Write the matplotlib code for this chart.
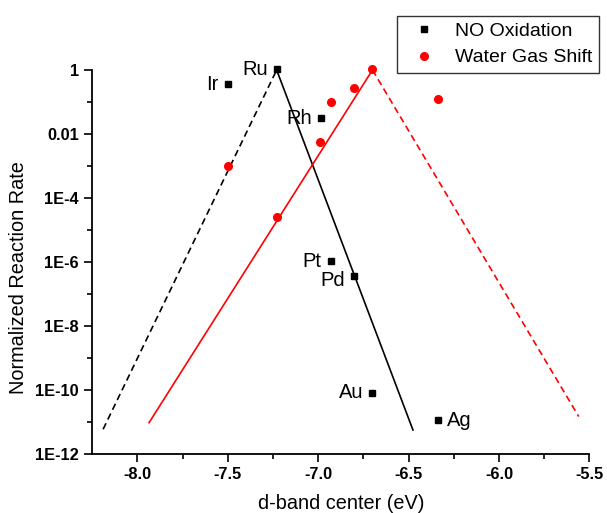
import numpy as np
import matplotlib
matplotlib.use("Agg")
import matplotlib.pyplot as plt
from matplotlib.ticker import FixedLocator, NullFormatter

plt.rcParams['font.family'] = ['Liberation Sans', 'DejaVu Sans']

# NO oxidation rates per metal (d-band center in eV, normalized rate)
metals = ['Ir', 'Ru', 'Rh', 'Pt', 'Pd', 'Au', 'Ag']
no_dband = [-7.50, -7.23, -6.985, -6.93, -6.80, -6.70, -6.34]
no_rate = [0.36, 1.05, 0.031, 1.05e-6, 3.5e-7, 8.0e-11, 1.1e-11]

# water gas shift rates
wgs_dband = [-7.50, -7.23, -6.99, -6.93, -6.80, -6.70, -6.34]
wgs_rate = [1.0e-3, 2.5e-5, 5.5e-3, 0.10, 0.27, 1.05, 0.12]

# volcano branches (end points)
no_left_x = [-8.19, -7.23]
no_left_y = [5.8e-12, 1.0]
no_right_x = [-7.23, -6.476]
no_right_y = [1.0, 5.5e-12]
wgs_left_x = [-7.936, -6.70]
wgs_left_y = [9.3e-12, 1.0]
wgs_right_x = [-6.70, -5.559]
wgs_right_y = [1.0, 1.45e-11]

ytick_vals = [1e-12, 1e-10, 1e-8, 1e-6, 1e-4, 1e-2, 1]
ytick_labels = ['1E-12', '1E-10', '1E-8', '1E-6', '1E-4', '0.01', '1']
xtick_vals = [-8.0, -7.5, -7.0, -6.5, -6.0, -5.5]

fig = plt.figure(figsize=(6.07, 5.13), dpi=100)
ax = fig.add_axes([0.152, 0.1156, 0.819, 0.748])
ax.set_yscale('log')

red = '#ff0000'
ax.plot(no_left_x, no_left_y, color='black', lw=1.2, dashes=(4, 2.5))
ax.plot(no_right_x, no_right_y, color='black', lw=1.2)
ax.plot(wgs_left_x, wgs_left_y, color=red, lw=1.2)
ax.plot(wgs_right_x, wgs_right_y, color=red, lw=1.2, dashes=(4, 2.5))

ax.plot(no_dband, no_rate, 's', color='black', ms=5, ls='none',
        label='NO Oxidation', clip_on=False, zorder=5)
ax.plot(wgs_dband, wgs_rate, 'o', color=red, ms=5.5, ls='none',
        label='Water Gas Shift', clip_on=False, zorder=5)

# metal names next to the NO oxidation points
for name, x, y in zip(metals, no_dband, no_rate):
    if name == 'Ag':
        ax.annotate(name, (x, y), xytext=(6.5, 0), textcoords='offset points',
                    ha='left', va='center', fontsize=14.5, annotation_clip=False)
    else:
        dy = -3 if name == 'Pd' else 0
        ax.annotate(name, (x, y), xytext=(-6.5, dy), textcoords='offset points',
                    ha='right', va='center', fontsize=14.5, annotation_clip=False)

ax.set_xlim(-8.25, -5.5)
ax.set_ylim(1e-12, 1)

ax.xaxis.set_major_locator(FixedLocator(xtick_vals))
ax.xaxis.set_minor_locator(FixedLocator(np.array(xtick_vals[:-1]) + 0.25))
ax.set_xticklabels(['%.1f' % v for v in xtick_vals], fontweight='bold', fontsize=11.8)

ax.yaxis.set_major_locator(FixedLocator(ytick_vals))
ax.yaxis.set_minor_locator(FixedLocator([1e-11, 1e-9, 1e-7, 1e-5, 1e-3, 1e-1]))
ax.yaxis.set_minor_formatter(NullFormatter())
ax.set_yticklabels(ytick_labels, fontweight='bold', fontsize=11.8)

ax.tick_params(which='major', length=6, width=1.2, direction='out')
ax.tick_params(which='minor', length=3.5, width=1.2, direction='out')

for side in ['top', 'right']:
    ax.spines[side].set_visible(False)
for side in ['left', 'bottom']:
    ax.spines[side].set_linewidth(1.3)

ax.set_xlabel('d-band center (eV)', fontsize=14.3, labelpad=9)
ax.set_ylabel('Normalized Reaction Rate', fontsize=14.3)
ax.yaxis.set_label_coords(-0.129, 0.458)

leg = fig.legend(loc='upper left', bbox_to_anchor=(0.6535, 0.9695),
                 borderaxespad=0, fontsize=14, frameon=True, fancybox=False,
                 borderpad=0.35, handlelength=2.08, handletextpad=0.56,
                 labelspacing=0.45, edgecolor='black')
leg.get_frame().set_linewidth(1.0)

fig.savefig('out.png', dpi=100)
